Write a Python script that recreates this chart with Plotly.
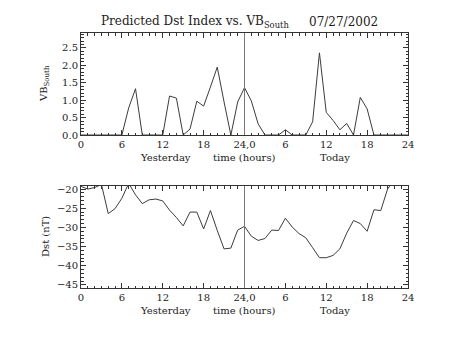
import plotly.graph_objects as go

hours = list(range(0, 49))
vb_south = [0, 0, 0, 0, 0, 0, 0, 0.78, 1.33, 0, 0, 0, 0, 1.12, 1.06, 0, 0.17, 0.97, 0.83, 1.38,
            1.95, 0.95, 0, 0.95, 1.36, 0.98, 0.32, 0, 0, 0, 0.15, 0, 0, 0, 0.38, 2.36, 0.65, 0.42,
            0.15, 0.33, 0, 1.08, 0.75, 0, 0, 0, 0, 0, 0]
dst_hours = list(range(0, 47))
dst = [-19.3, -20.0, -19.6, -18.8, -26.4, -25.1, -22.4, -18.5, -21.5, -23.8, -22.8, -22.6, -23.1,
       -25.5, -27.4, -29.6, -26.0, -26.0, -30.4, -25.6, -30.8, -35.6, -35.4, -30.7, -29.7, -32.3,
       -33.4, -32.9, -30.7, -30.8, -27.6, -29.9, -31.6, -32.7, -35.3, -37.9, -37.9, -37.3, -35.6,
       -31.5, -28.2, -29.0, -31.0, -25.4, -25.6, -20.0, -17.5]
x_tickvals = [0, 6, 12, 18, 24, 30, 36, 42, 48]
x_ticktext = ["0", "6", "12", "18", "24,0", "6", "12", "18", "24"]
vb_ticks = [0.0, 0.5, 1.0, 1.5, 2.0, 2.5]
dst_ticks = [-20, -25, -30, -35, -40, -45]

FONT = "DejaVu Serif"
AX = "#333333"
LINE = "#3c3c3c"

fig = go.Figure()
fig.add_trace(go.Scatter(x=hours, y=vb_south, mode="lines", line=dict(color=LINE, width=1),
                         xaxis="x", yaxis="y", showlegend=False))
fig.add_trace(go.Scatter(x=dst_hours, y=dst, mode="lines", line=dict(color=LINE, width=1),
                         xaxis="x2", yaxis="y2", showlegend=False))

def xax(anchor):
    return dict(range=[0, 48], tickvals=x_tickvals, ticktext=x_ticktext, ticks="inside",
                ticklen=5, tickcolor=AX, showline=True, linecolor=AX, linewidth=1, mirror="ticks",
                showgrid=False, zeroline=False, anchor=anchor,
                minor=dict(dtick=1, tick0=0, ticks="inside", ticklen=2.5, tickcolor=AX),
                tickfont=dict(family=FONT, size=10, color="#222"))

fig.update_layout(
    width=453, height=340, plot_bgcolor="white", paper_bgcolor="white",
    margin=dict(l=81, r=45, t=33, b=52),
    xaxis=xax("y"),
    yaxis=dict(domain=[0.6, 1.0], range=[0, 2.93], tickvals=vb_ticks,
               ticktext=["0.0", "0.5", "1.0", "1.5", "2.0", "2.5"], ticks="inside", ticklen=5,
               tickcolor=AX, showline=True, linecolor=AX, mirror="ticks", showgrid=False,
               zeroline=False, anchor="x",
               minor=dict(dtick=0.1, tick0=0, ticks="inside", ticklen=2.5, tickcolor=AX),
               tickfont=dict(family=FONT, size=10, color="#222")),
    xaxis2=xax("y2"),
    yaxis2=dict(domain=[0.0, 0.4], range=[-45.8, -19.2], tickvals=dst_ticks,
                ticktext=[str(v).replace("-", "\u2212") for v in dst_ticks], ticks="inside",
                ticklen=5, tickcolor=AX, showline=True, linecolor=AX, mirror="ticks",
                showgrid=False, zeroline=False, anchor="x2",
                minor=dict(dtick=1, tick0=0, ticks="inside", ticklen=2.5, tickcolor=AX),
                tickfont=dict(family=FONT, size=10, color="#222")),
)

# vertical line at 24 h in both panels
fig.add_shape(type="line", x0=24, x1=24, y0=0, y1=1, xref="x", yref="y domain",
              line=dict(color="#777777", width=1))
fig.add_shape(type="line", x0=24, x1=24, y0=0, y1=1, xref="x2", yref="y2 domain",
              line=dict(color="#777777", width=1))

ann_font = dict(family=FONT, size=10, color="#222")
# title
fig.add_annotation(text="Predicted Dst Index vs. VB<sub>South</sub>", xref="paper", yref="paper",
                   x=0.055, y=1.045, xanchor="left", yanchor="middle", showarrow=False,
                   font=dict(family=FONT, size=12, color="#222"))
fig.add_annotation(text="07/27/2002", xref="paper", yref="paper",
                   x=0.691, y=1.045, xanchor="left", yanchor="middle", showarrow=False,
                   font=dict(family=FONT, size=12, color="#222"))
# x axis labels
for xa, ypx in (("x", 157), ("x2", 310)):
    yp = (288 - ypx) / 255
    fig.add_annotation(text="Yesterday", x=12.4, y=yp, xref=xa, yref="paper", showarrow=False,
                       font=ann_font, yanchor="middle")
    fig.add_annotation(text="time (hours)", x=24, y=yp, xref=xa, yref="paper", showarrow=False,
                       font=ann_font, yanchor="middle")
    fig.add_annotation(text="Today", x=37.3, y=yp, xref=xa, yref="paper", showarrow=False,
                       font=ann_font, yanchor="middle")
# y axis titles
fig.add_annotation(text="VB<sub>South</sub>", xref="paper", yref="paper", x=(45 - 81) / 327,
                   y=0.8, textangle=-90, showarrow=False, font=ann_font,
                   xanchor="center", yanchor="middle")
fig.add_annotation(text="Dst (nT)", xref="paper", yref="paper", x=(45 - 81) / 327,
                   y=0.2, textangle=-90, showarrow=False, font=ann_font,
                   xanchor="center", yanchor="middle")

fig.write_html("out.html")
